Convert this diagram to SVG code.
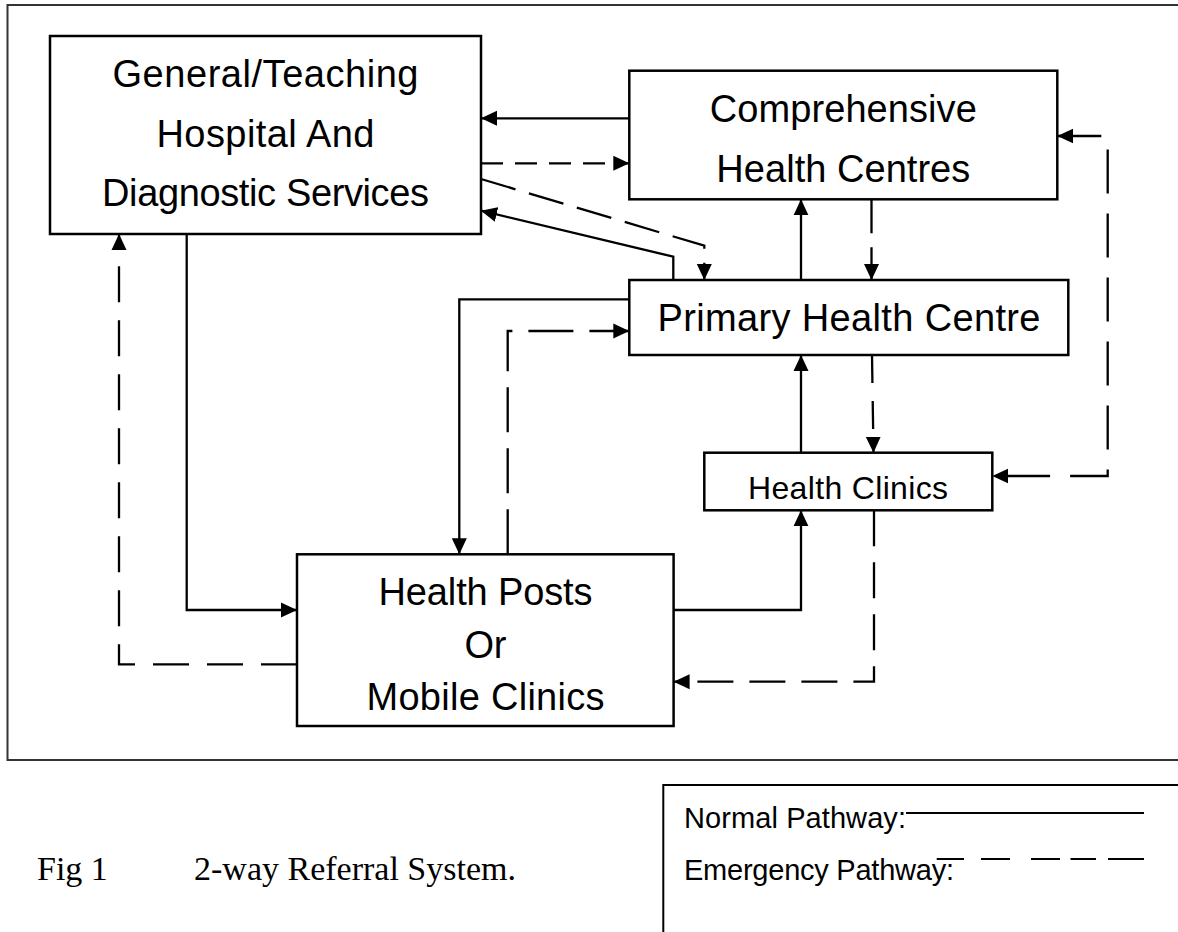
<svg xmlns="http://www.w3.org/2000/svg" width="1178" height="932" viewBox="0 0 1178 932">
<style>
.frame{fill:none;stroke:#333;stroke-width:2}
.box{fill:#fff;stroke:#000;stroke-width:2.5}
.lbl{font-family:"Liberation Sans",Arial,sans-serif;font-size:38px;fill:#000;text-anchor:middle}
.sm{font-size:32px}
.leg{font-family:"Liberation Sans",Arial,sans-serif;font-size:29px;fill:#000}
.cap{font-family:"Liberation Serif","Times New Roman",serif;font-size:34px;fill:#000}
.n{fill:none;stroke:#000;stroke-width:2.3;marker-end:url(#ah)}
.e{fill:none;stroke:#000;stroke-width:2.3;stroke-dasharray:38 16;marker-end:url(#ah)}
</style>
<defs>
<marker id="ah" markerUnits="userSpaceOnUse" markerWidth="17" markerHeight="16" refX="16" refY="8" orient="auto">
<path d="M0,0.5 L16,8 L0,15.5 z" fill="#000"/>
</marker>
<marker id="ahs" markerUnits="userSpaceOnUse" markerWidth="17" markerHeight="16" refX="16" refY="8" orient="auto-start-reverse">
<path d="M0,0.5 L16,8 L0,15.5 z" fill="#000"/>
</marker>
</defs>
<rect width="1178" height="932" fill="#fff"/>
<rect class="frame" x="7.5" y="5" width="1200" height="755"/>

<g id="connectors">
<!-- normal pathways -->
<path class="n" d="M629.3,118.3 H481"/>
<path class="n" d="M673.3,280 V256.7 L481,210.7"/>
<path class="n" d="M801,280 V199.3"/>
<path class="n" d="M629.3,299.3 H459.3 V554.3"/>
<path class="n" d="M801,452.7 V355"/>
<path class="n" d="M673.6,610 H801 V510.3"/>
<path class="n" d="M186.7,234 V610 H297"/>
<!-- emergency pathways -->
<path class="e" style="stroke-dasharray:22 12" d="M481,163.3 H629.3"/>
<path class="e" style="stroke-dasharray:36 14" d="M481,179 L704.3,245.7 V280"/>
<path class="e" style="stroke-dasharray:34 14" d="M871.5,199.3 V280"/>
<path class="e" style="stroke-dasharray:28 18" d="M872,355 L873.5,452.7"/>
<path class="e" style="stroke-dasharray:44 20;marker-start:url(#ahs)" d="M1057.3,136 H1107.7 V476 H992.3"/>
<path class="e" style="stroke-dasharray:45 16" d="M507.7,554.3 V331 H629.3"/>
<path class="e" style="stroke-dasharray:36 16" d="M874,510.3 V681.7 H673.6"/>
<path class="e" style="stroke-dasharray:36 18" d="M297,664.3 H119 V234"/>
</g>

<g id="hospital">
<rect class="box" x="50" y="36" width="431" height="198"/>
<text class="lbl" x="265.5" y="87" textLength="306">General/Teaching</text>
<text class="lbl" x="265.5" y="147" textLength="218">Hospital And</text>
<text class="lbl" x="265.5" y="206" textLength="327">Diagnostic Services</text>
</g>

<g id="comprehensive">
<rect class="box" x="629.3" y="70.7" width="428" height="128.6"/>
<text class="lbl" x="843.3" y="121.7" textLength="267">Comprehensive</text>
<text class="lbl" x="843.3" y="181.7" textLength="254">Health Centres</text>
</g>

<g id="primary">
<rect class="box" x="629.3" y="280" width="439" height="75"/>
<text class="lbl" x="849" y="331" textLength="383">Primary Health Centre</text>
</g>

<g id="clinics">
<rect class="box" x="704.3" y="452.7" width="288" height="57.6"/>
<text class="lbl sm" x="848" y="499.3" textLength="200">Health Clinics</text>
</g>

<g id="healthposts">
<rect class="box" x="297" y="554.3" width="376.6" height="171.7"/>
<text class="lbl" x="485.5" y="605" textLength="214">Health Posts</text>
<text class="lbl" x="485.5" y="657.7" textLength="42">Or</text>
<text class="lbl" x="485.5" y="710" textLength="238">Mobile Clinics</text>
</g>

<g id="legend">
<rect class="frame" x="663.3" y="785" width="600" height="300" style="stroke:#000"/>
<text class="leg" x="684" y="828" textLength="222">Normal Pathway:</text>
<line x1="906" y1="813" x2="1144" y2="813" stroke="#000" stroke-width="1.8"/>
<text class="leg" x="684" y="880" textLength="270">Emergency Pathway:</text>
<path d="M936.7,859 H964 M981,859 H1010 M1031,859 H1060 M1070.5,859 H1096 M1108,859 H1144" stroke="#000" stroke-width="1.8" fill="none"/>
</g>

<g id="caption">
<text class="cap" x="37" y="880">Fig 1</text>
<text class="cap" x="194" y="880">2-way Referral System.</text>
</g>
</svg>
